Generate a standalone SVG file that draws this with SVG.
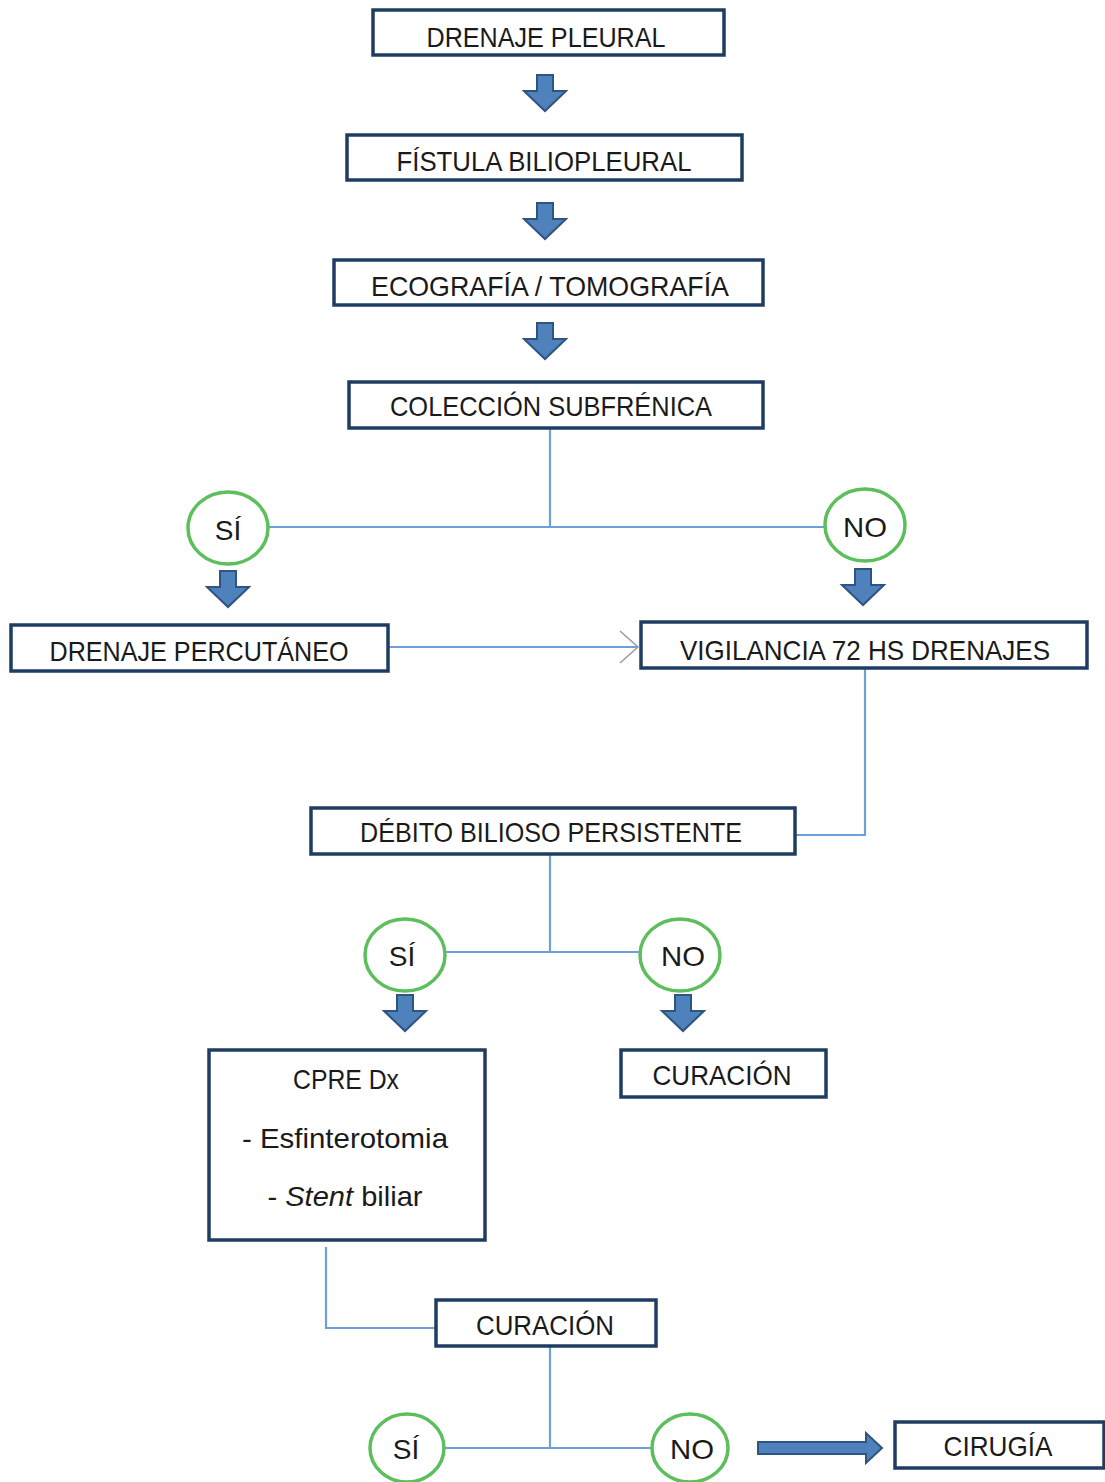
<svg xmlns="http://www.w3.org/2000/svg" width="1105" height="1482" viewBox="0 0 1105 1482">
<style>
.box{fill:#fff;stroke:#1f3d63;stroke-width:3.5}
.circ{fill:#fff;stroke:#5cbf5c;stroke-width:3.5}
.t{font-family:"Liberation Sans",Arial,sans-serif;font-size:28px;fill:#1a1a1a;text-anchor:middle}
.ln{fill:none;stroke:#6f9fd8;stroke-width:2.2}
.blk{fill:#4f81bd;stroke:#2f5480;stroke-width:2}
</style>
<defs>
<path id="dn" class="blk" d="M-8,-18 H8 V-2 H21 L0,18 L-21,-2 H-8 Z"/>
</defs>
<g id="connectors">
<path class="ln" d="M550,428 V527 M268,527 H824"/>
<path class="ln" d="M388,647 H638"/>
<path d="M620,631 L638,647 L620,663" fill="none" stroke="#999" stroke-width="1.5"/>
<path class="ln" d="M865,668 V835 H795"/>
<path class="ln" d="M550,854 V952 M445,952 H640"/>
<path class="ln" d="M326,1247 V1328 H436"/>
<path class="ln" d="M550,1346 V1448 M445,1448 H652"/>
<use href="#dn" x="545" y="93"/>
<use href="#dn" x="545" y="221"/>
<use href="#dn" x="545" y="341"/>
<use href="#dn" x="228" y="589"/>
<use href="#dn" x="863" y="587"/>
<use href="#dn" x="405" y="1013"/>
<use href="#dn" x="683" y="1013"/>
<path class="blk" d="M758,1442 H866 V1433 L882,1448 L866,1463 V1454 H758 Z"/>
</g>
<g id="n1"><rect class="box" x="373" y="10" width="351" height="45"/><text class="t" x="546" y="47" textLength="239" lengthAdjust="spacingAndGlyphs">DRENAJE PLEURAL</text></g>
<g id="n2"><rect class="box" x="347" y="135" width="395" height="45"/><text class="t" x="544" y="171" textLength="295" lengthAdjust="spacingAndGlyphs">FÍSTULA BILIOPLEURAL</text></g>
<g id="n3"><rect class="box" x="334" y="260" width="429" height="45"/><text class="t" x="550" y="296" textLength="358" lengthAdjust="spacingAndGlyphs">ECOGRAFÍA / TOMOGRAFÍA</text></g>
<g id="n4"><rect class="box" x="349" y="382" width="414" height="46"/><text class="t" x="551" y="416" textLength="322" lengthAdjust="spacingAndGlyphs">COLECCIÓN SUBFRÉNICA</text></g>
<g id="si1"><ellipse class="circ" cx="228" cy="528" rx="40" ry="36"/><text class="t" x="228" y="540">SÍ</text></g>
<g id="no1"><ellipse class="circ" cx="865" cy="525" rx="40" ry="36"/><text class="t" x="865" y="537" textLength="44" lengthAdjust="spacingAndGlyphs">NO</text></g>
<g id="n5"><rect class="box" x="11" y="625" width="377" height="46"/><text class="t" x="199" y="661" textLength="299" lengthAdjust="spacingAndGlyphs">DRENAJE PERCUTÁNEO</text></g>
<g id="n6"><rect class="box" x="641" y="622" width="446" height="46"/><text class="t" x="865" y="660" textLength="370" lengthAdjust="spacingAndGlyphs">VIGILANCIA 72 HS DRENAJES</text></g>
<g id="n7"><rect class="box" x="311" y="808" width="484" height="46"/><text class="t" x="551" y="842" textLength="382" lengthAdjust="spacingAndGlyphs">DÉBITO BILIOSO PERSISTENTE</text></g>
<g id="si2"><ellipse class="circ" cx="405" cy="955" rx="40" ry="36"/><text class="t" x="402" y="966">SÍ</text></g>
<g id="no2"><ellipse class="circ" cx="680" cy="955" rx="40" ry="36"/><text class="t" x="683" y="966" textLength="44" lengthAdjust="spacingAndGlyphs">NO</text></g>
<g id="n8"><rect class="box" x="209" y="1050" width="276" height="190"/>
<text class="t" x="346" y="1089" textLength="106" lengthAdjust="spacingAndGlyphs">CPRE Dx</text>
<text class="t" x="345" y="1148" textLength="206" lengthAdjust="spacingAndGlyphs">- Esfinterotomia</text>
<text class="t" x="345" y="1206" textLength="155" lengthAdjust="spacingAndGlyphs">- <tspan font-style="italic">Stent</tspan> biliar</text></g>
<g id="n9"><rect class="box" x="621" y="1050" width="205" height="47"/><text class="t" x="722" y="1085" textLength="139" lengthAdjust="spacingAndGlyphs">CURACIÓN</text></g>
<g id="n10"><rect class="box" x="436" y="1300" width="220" height="46"/><text class="t" x="545" y="1335" textLength="138" lengthAdjust="spacingAndGlyphs">CURACIÓN</text></g>
<g id="si3"><ellipse class="circ" cx="407" cy="1448" rx="37" ry="34"/><text class="t" x="406" y="1459">SÍ</text></g>
<g id="no3"><ellipse class="circ" cx="690" cy="1448" rx="38" ry="34"/><text class="t" x="692" y="1459" textLength="44" lengthAdjust="spacingAndGlyphs">NO</text></g>
<g id="n11"><rect class="box" x="895" y="1422" width="209" height="46"/><text class="t" x="998" y="1456" textLength="109" lengthAdjust="spacingAndGlyphs">CIRUGÍA</text></g>
</svg>
